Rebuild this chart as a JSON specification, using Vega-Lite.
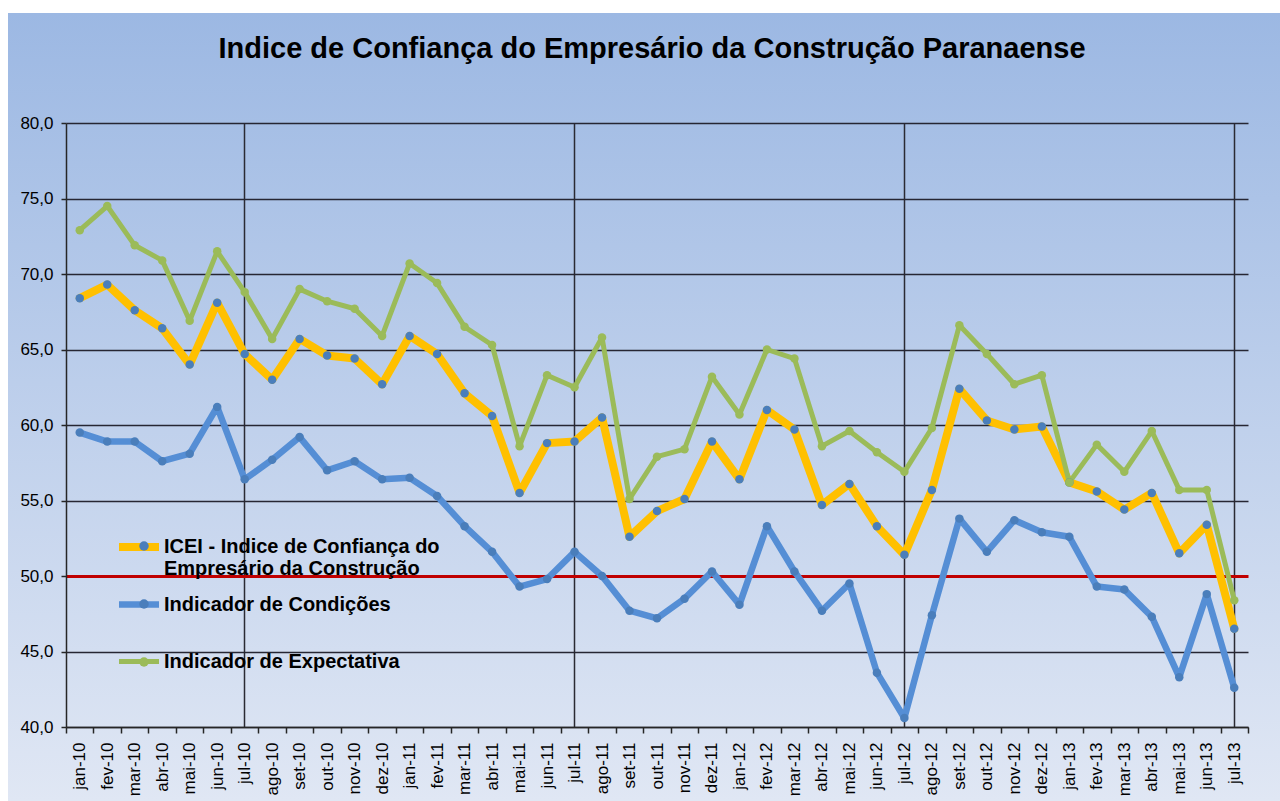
{
  "$schema": "https://vega.github.io/schema/vega-lite/v6.json",
  "width": 1272,
  "height": 788,
  "autosize": {"type": "none"},
  "padding": {"left": 8, "top": 13, "right": 0, "bottom": 0},
  "background": "white",
  "config": {
    "font": "Liberation Sans",
    "view": {
      "stroke": null,
      "fill": {"gradient": "linear", "x1": 0, "y1": 0, "x2": 0, "y2": 1,
        "stops": [{"offset": 0, "color": "#9cb8e3"}, {"offset": 1, "color": "#e0e7f4"}]}
    }
  },
  "title": {
    "text": "Indice de Confiança do Empresário da Construção Paranaense",
    "font": "Liberation Sans",
    "fontSize": 29,
    "fontWeight": "bold",
    "color": "#000000",
    "anchor": "middle",
    "baseline": "alphabetic",
    "offset": -74,
    "dx": 8
  },
  "data": {
    "values": [
      {"m": "jan-10", "ICEI": 68.4, "Indicador de Condições": 59.5, "Indicador de Expectativa": 72.9},
      {"m": "fev-10", "ICEI": 69.3, "Indicador de Condições": 58.9, "Indicador de Expectativa": 74.5},
      {"m": "mar-10", "ICEI": 67.6, "Indicador de Condições": 58.9, "Indicador de Expectativa": 71.9},
      {"m": "abr-10", "ICEI": 66.4, "Indicador de Condições": 57.6, "Indicador de Expectativa": 70.9},
      {"m": "mai-10", "ICEI": 64.0, "Indicador de Condições": 58.1, "Indicador de Expectativa": 66.9},
      {"m": "jun-10", "ICEI": 68.1, "Indicador de Condições": 61.2, "Indicador de Expectativa": 71.5},
      {"m": "jul-10", "ICEI": 64.7, "Indicador de Condições": 56.4, "Indicador de Expectativa": 68.8},
      {"m": "ago-10", "ICEI": 63.0, "Indicador de Condições": 57.7, "Indicador de Expectativa": 65.7},
      {"m": "set-10", "ICEI": 65.7, "Indicador de Condições": 59.2, "Indicador de Expectativa": 69.0},
      {"m": "out-10", "ICEI": 64.6, "Indicador de Condições": 57.0, "Indicador de Expectativa": 68.2},
      {"m": "nov-10", "ICEI": 64.4, "Indicador de Condições": 57.6, "Indicador de Expectativa": 67.7},
      {"m": "dez-10", "ICEI": 62.7, "Indicador de Condições": 56.4, "Indicador de Expectativa": 65.9},
      {"m": "jan-11", "ICEI": 65.9, "Indicador de Condições": 56.5, "Indicador de Expectativa": 70.7},
      {"m": "fev-11", "ICEI": 64.7, "Indicador de Condições": 55.3, "Indicador de Expectativa": 69.4},
      {"m": "mar-11", "ICEI": 62.1, "Indicador de Condições": 53.3, "Indicador de Expectativa": 66.5},
      {"m": "abr-11", "ICEI": 60.6, "Indicador de Condições": 51.6, "Indicador de Expectativa": 65.3},
      {"m": "mai-11", "ICEI": 55.5, "Indicador de Condições": 49.3, "Indicador de Expectativa": 58.6},
      {"m": "jun-11", "ICEI": 58.8, "Indicador de Condições": 49.8, "Indicador de Expectativa": 63.3},
      {"m": "jul-11", "ICEI": 58.9, "Indicador de Condições": 51.6, "Indicador de Expectativa": 62.5},
      {"m": "ago-11", "ICEI": 60.5, "Indicador de Condições": 50.0, "Indicador de Expectativa": 65.8},
      {"m": "set-11", "ICEI": 52.6, "Indicador de Condições": 47.7, "Indicador de Expectativa": 55.1},
      {"m": "out-11", "ICEI": 54.3, "Indicador de Condições": 47.2, "Indicador de Expectativa": 57.9},
      {"m": "nov-11", "ICEI": 55.1, "Indicador de Condições": 48.5, "Indicador de Expectativa": 58.4},
      {"m": "dez-11", "ICEI": 58.9, "Indicador de Condições": 50.3, "Indicador de Expectativa": 63.2},
      {"m": "jan-12", "ICEI": 56.4, "Indicador de Condições": 48.1, "Indicador de Expectativa": 60.7},
      {"m": "fev-12", "ICEI": 61.0, "Indicador de Condições": 53.3, "Indicador de Expectativa": 65.0},
      {"m": "mar-12", "ICEI": 59.7, "Indicador de Condições": 50.3, "Indicador de Expectativa": 64.4},
      {"m": "abr-12", "ICEI": 54.7, "Indicador de Condições": 47.7, "Indicador de Expectativa": 58.6},
      {"m": "mai-12", "ICEI": 56.1, "Indicador de Condições": 49.5, "Indicador de Expectativa": 59.6},
      {"m": "jun-12", "ICEI": 53.3, "Indicador de Condições": 43.6, "Indicador de Expectativa": 58.2},
      {"m": "jul-12", "ICEI": 51.4, "Indicador de Condições": 40.6, "Indicador de Expectativa": 56.9},
      {"m": "ago-12", "ICEI": 55.7, "Indicador de Condições": 47.4, "Indicador de Expectativa": 59.8},
      {"m": "set-12", "ICEI": 62.4, "Indicador de Condições": 53.8, "Indicador de Expectativa": 66.6},
      {"m": "out-12", "ICEI": 60.3, "Indicador de Condições": 51.6, "Indicador de Expectativa": 64.7},
      {"m": "nov-12", "ICEI": 59.7, "Indicador de Condições": 53.7, "Indicador de Expectativa": 62.7},
      {"m": "dez-12", "ICEI": 59.9, "Indicador de Condições": 52.9, "Indicador de Expectativa": 63.3},
      {"m": "jan-13", "ICEI": 56.2, "Indicador de Condições": 52.6, "Indicador de Expectativa": 56.2},
      {"m": "fev-13", "ICEI": 55.6, "Indicador de Condições": 49.3, "Indicador de Expectativa": 58.7},
      {"m": "mar-13", "ICEI": 54.4, "Indicador de Condições": 49.1, "Indicador de Expectativa": 56.9},
      {"m": "abr-13", "ICEI": 55.5, "Indicador de Condições": 47.3, "Indicador de Expectativa": 59.6},
      {"m": "mai-13", "ICEI": 51.5, "Indicador de Condições": 43.3, "Indicador de Expectativa": 55.7},
      {"m": "jun-13", "ICEI": 53.4, "Indicador de Condições": 48.8, "Indicador de Expectativa": 55.7},
      {"m": "jul-13", "ICEI": 46.5, "Indicador de Condições": 42.6, "Indicador de Expectativa": 48.4}
    ]
  },
  "transform": [{"fold": ["ICEI", "Indicador de Condições", "Indicador de Expectativa"], "as": ["s", "v"]}],
  "encoding": {
    "y": {
      "field": "v",
      "type": "quantitative",
      "scale": {"domain": [40, 80], "range": [714, 110], "nice": false, "zero": false},
      "axis": {
        "title": null,
        "offset": -58,
        "values": [40, 45, 50, 55, 60, 65, 70, 75, 80],
        "labelExpr": "replace(format(datum.value, '.1f'), '.', ',')",
        "labelFontSize": 17,
        "labelColor": "#000000",
        "labelPadding": 8,
        "tickSize": 5,
        "tickColor": "#262626",
        "tickWidth": 1.5,
        "domainColor": "#262626",
        "domainWidth": 1.5,
        "grid": true,
        "gridColor": {"condition": {"test": "datum.value === 50", "value": "#c00000"}, "value": "#262633"},
        "gridWidth": {"condition": {"test": "datum.value === 50", "value": 3}, "value": 1.5},
        "gridOpacity": 1
      }
    }
  },
  "resolve": {"axis": {"x": "independent"}},
  "layer": [
    {
      "mark": {"type": "line", "strokeJoin": "round", "strokeCap": "round"},
      "encoding": {
        "x": {
          "field": "m",
          "type": "ordinal",
          "sort": ["jan-10","fev-10","mar-10","abr-10","mai-10","jun-10","jul-10","ago-10","set-10","out-10","nov-10","dez-10","jan-11","fev-11","mar-11","abr-11","mai-11","jun-11","jul-11","ago-11","set-11","out-11","nov-11","dez-11","jan-12","fev-12","mar-12","abr-12","mai-12","jun-12","jul-12","ago-12","set-12","out-12","nov-12","dez-12","jan-13","fev-13","mar-13","abr-13","mai-13","jun-13","jul-13"],
          "scale": {"type": "band", "range": [58, 1240], "paddingInner": 0, "paddingOuter": 0},
          "axis": {
            "title": null,
            "orient": "bottom",
            "offset": -74,
            "tickBand": "extent",
            "labelAngle": 270,
            "labelFontSize": 17,
            "labelColor": "#000000",
            "labelPadding": 9,
            "labelOverlap": false,
            "tickSize": 6,
            "tickColor": "#262626",
            "tickWidth": 1.5,
            "domainColor": "#262626",
            "domainWidth": 1.5,
            "grid": false
          }
        },
        "stroke": {
          "field": "s",
          "type": "nominal",
          "scale": {"domain": ["ICEI", "Indicador de Condições", "Indicador de Expectativa"], "range": ["#ffc000", "#558ed5", "#9bbb59"]},
          "legend": {
            "orient": "none",
            "legendX": 107,
            "legendY": 510,
            "title": null,
            "padding": 0,
            "symbolType": "stroke",
            "symbolSize": 1600,
            "symbolStrokeWidth": 6,
            "symbolOpacity": 1,
            "rowPadding": 2,
            "labelFont": "Liberation Sans",
            "labelFontSize": 20,
            "labelFontWeight": "bold",
            "labelColor": "#000000",
            "labelOffset": 1,
            "labelLimit": 0,
            "labelExpr": "datum.value == 'ICEI' ? ['ICEI - Indice de Confiança do', 'Empresário da Construção'] : [datum.value, ' ']"
          }
        },
        "strokeWidth": {
          "field": "s",
          "type": "ordinal",
          "scale": {"domain": ["ICEI", "Indicador de Condições", "Indicador de Expectativa"], "range": [8, 5, 5]},
          "legend": null
        }
      }
    },
    {
      "mark": {"type": "circle", "opacity": 1, "size": 72},
      "encoding": {
        "x": {
          "field": "m",
          "type": "ordinal",
          "sort": ["jan-10","fev-10","mar-10","abr-10","mai-10","jun-10","jul-10","ago-10","set-10","out-10","nov-10","dez-10","jan-11","fev-11","mar-11","abr-11","mai-11","jun-11","jul-11","ago-11","set-11","out-11","nov-11","dez-11","jan-12","fev-12","mar-12","abr-12","mai-12","jun-12","jul-12","ago-12","set-12","out-12","nov-12","dez-12","jan-13","fev-13","mar-13","abr-13","mai-13","jun-13","jul-13"],
          "axis": {
            "title": null,
            "orient": "top",
            "offset": 0,
            "labels": false,
            "ticks": false,
            "domain": false,
            "grid": true,
            "gridColor": "#2a2a33",
            "gridWidth": 1.5,
            "gridOpacity": {"condition": {"test": "indexof(datum.value, 'jul') === 0", "value": 1}, "value": 0}
          }
        },
        "color": {
          "field": "s",
          "type": "nominal",
          "scale": {"domain": ["ICEI", "Indicador de Expectativa", "Indicador de Condições"], "range": ["#4a7ebb", "#9bbb59", "#4a7ebb"]},
          "legend": {
            "orient": "none",
            "legendX": 126,
            "legendY": 523,
            "values": ["ICEI", "Indicador de Condições", "Indicador de Expectativa"],
            "title": null,
            "padding": 0,
            "symbolType": "circle",
            "symbolSize": 90,
            "symbolStrokeWidth": 0,
            "symbolOpacity": 1,
            "rowPadding": 16,
            "labelFont": "Liberation Sans",
            "labelFontSize": 20,
            "labelFontWeight": "bold",
            "labelOpacity": 0,
            "labelOffset": 1,
            "labelLimit": 0,
            "labelExpr": "[' ', ' ']"
          }
        }
      }
    }
  ]
}
